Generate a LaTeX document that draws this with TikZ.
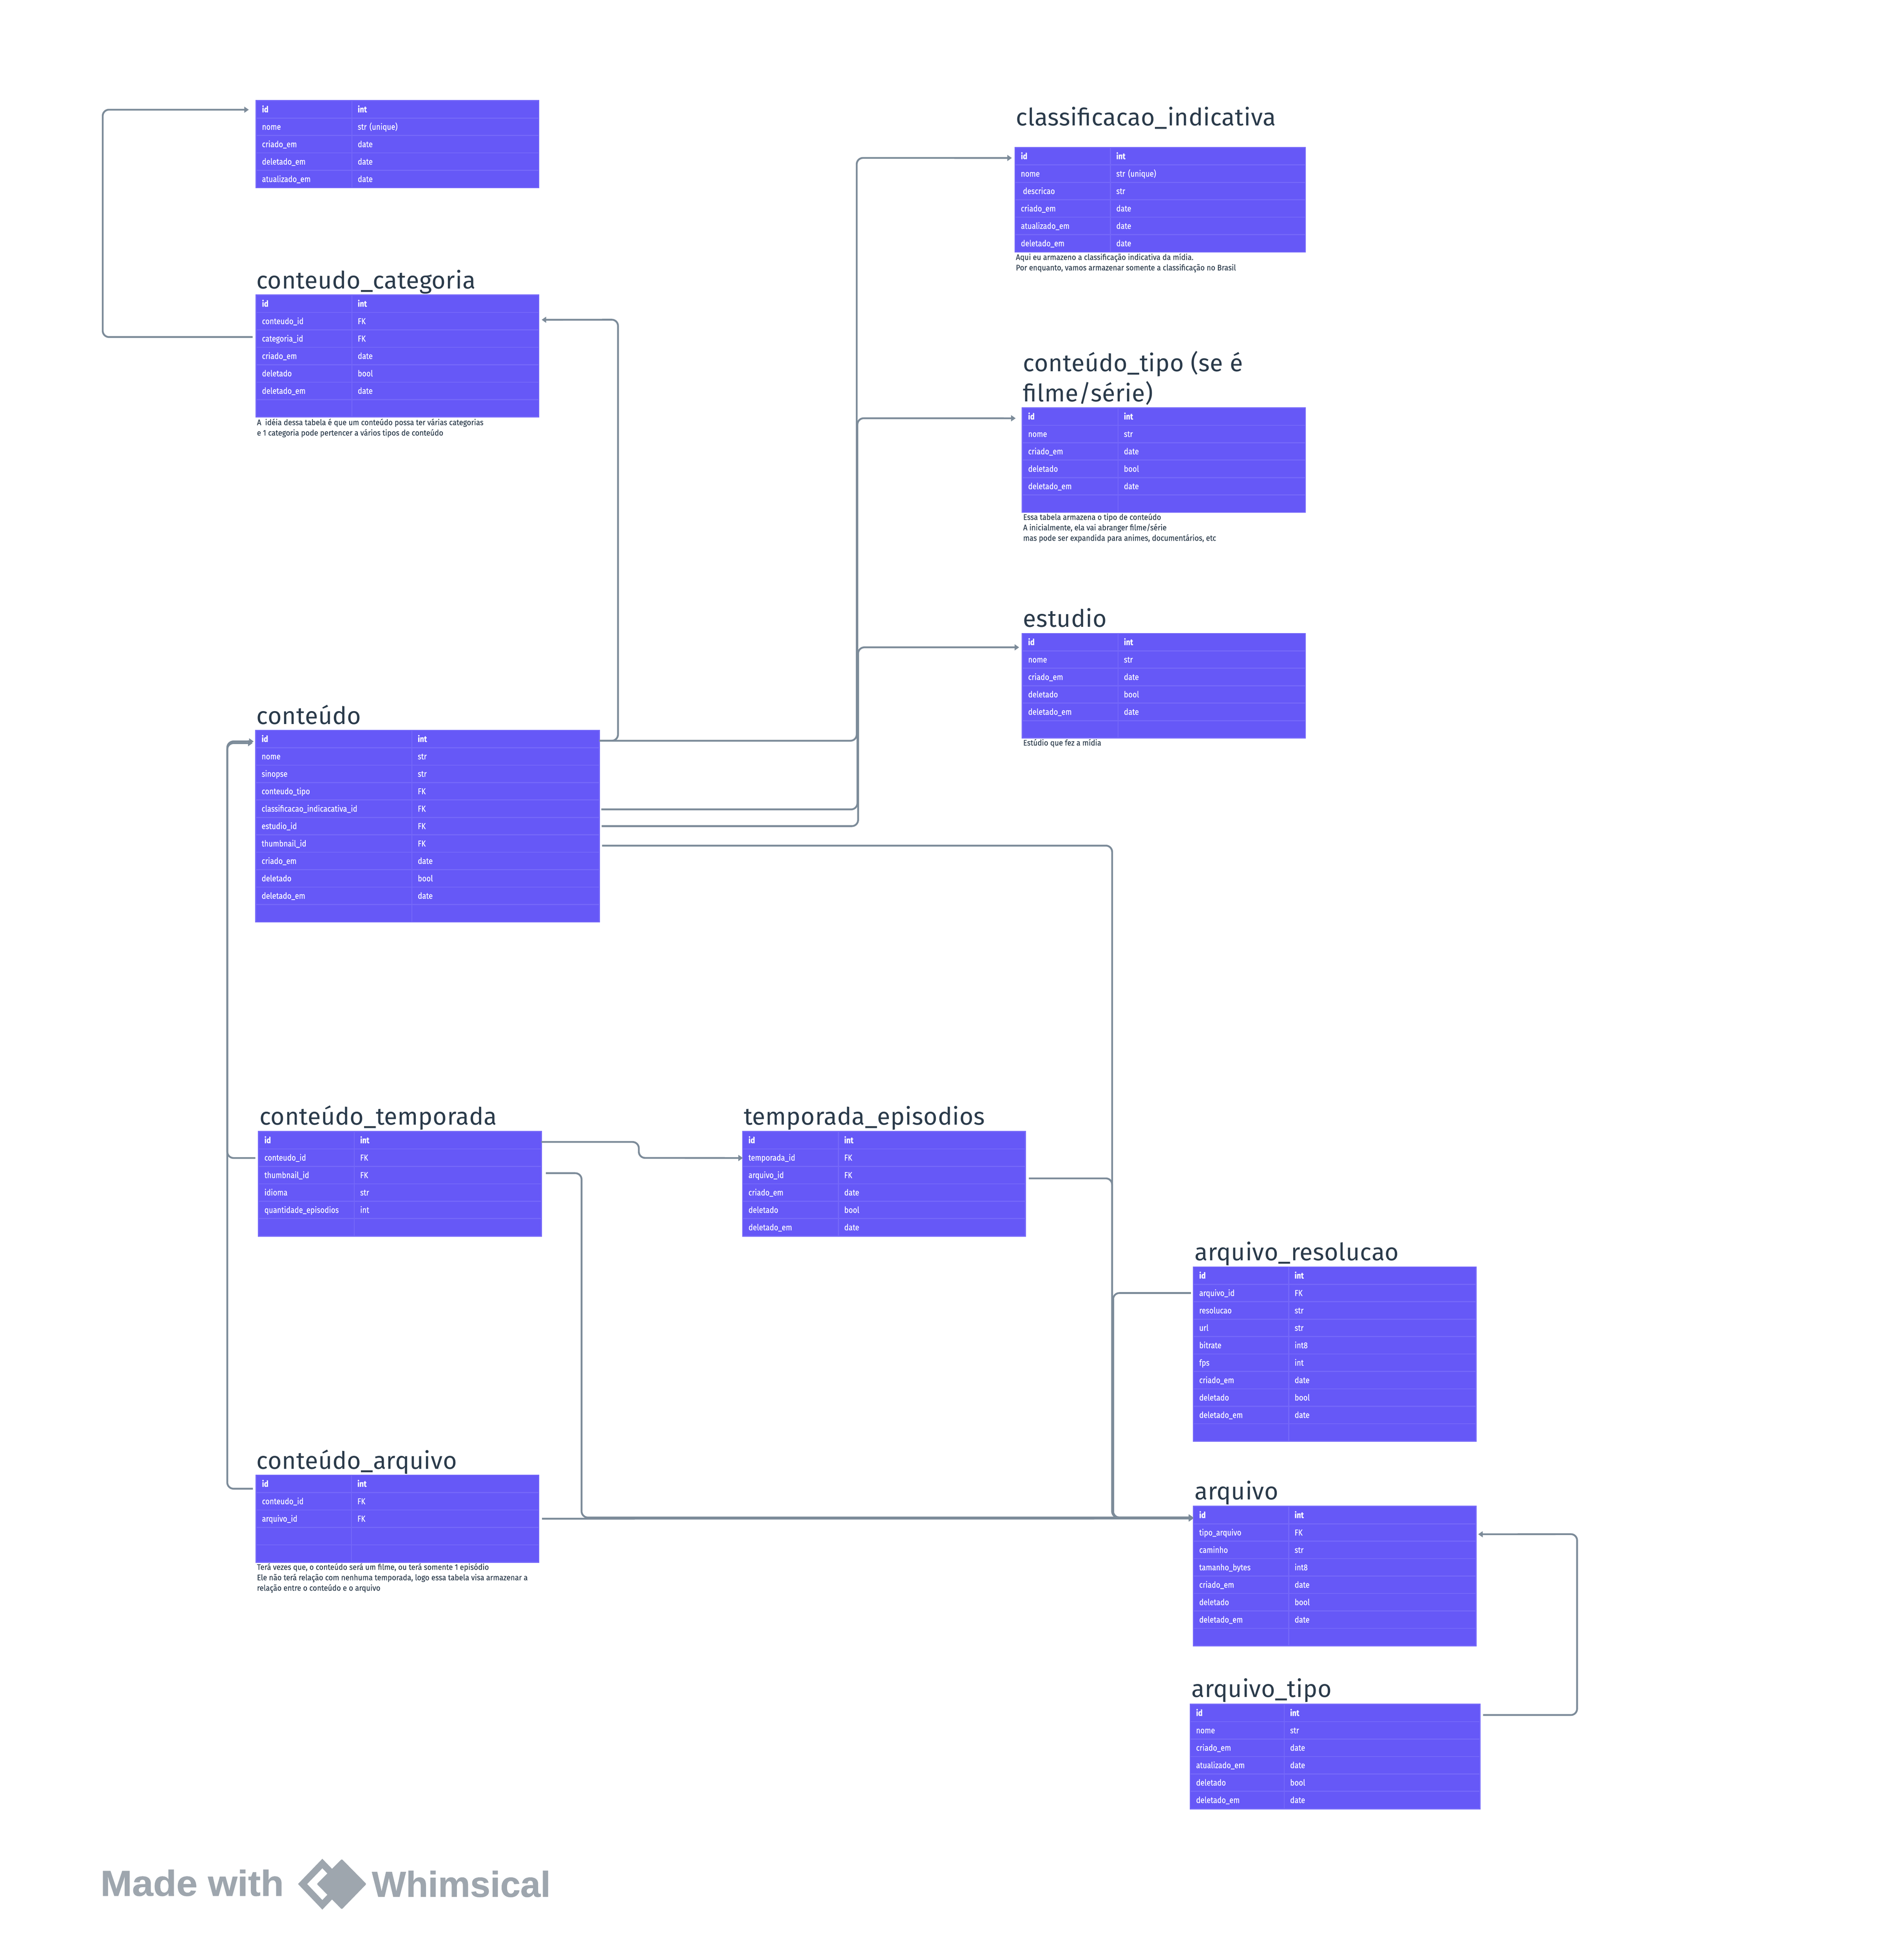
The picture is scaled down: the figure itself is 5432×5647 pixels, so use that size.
\documentclass[tikz,border=0pt]{standalone}
\usepackage{fontspec}
\setmainfont{Fira Sans}
\newfontfamily\rowfam{Fira Sans}[FakeStretch=0.86,FakeBold=0.55]
\newfontfamily\notefam{Fira Sans}[FakeStretch=0.915,FakeBold=0.15]
\newfontfamily\titlefam{Fira Sans}[LetterSpace=0.9]
\newfontfamily\logofont{Liberation Sans}[FakeBold=0.6]
\newfontfamily\logofontb{Liberation Sans}[FakeStretch=1.05,FakeBold=0.6]
\usetikzlibrary{arrows.meta}
\definecolor{cellfill}{HTML}{6658F7}
\definecolor{cellline}{HTML}{7568F9}
\definecolor{titlecol}{HTML}{2A3A4A}
\definecolor{linkcol}{HTML}{7C8B99}
\definecolor{logocol}{HTML}{9EA6AE}
\newcommand{\rowf}{\rowfam\fontsize{7.0}{8}\selectfont}
\newcommand{\titlef}{\titlefam\fontsize{19.7}{24.8}\selectfont}
\newcommand{\notef}{\notefam\fontsize{6.6}{8.55}\selectfont}
\tikzset{
  cell/.style={draw=cellline,fill=cellfill,text=white,line width=0.03cm,anchor=north west,outer sep=0pt,
    inner xsep=0.17cm,inner ysep=0pt,minimum height=0.502cm,text height=0.17cm,text depth=0pt,align=left,font=\rowf},
  tabletitle/.style={anchor=base west,inner sep=0pt,text=titlecol,font=\titlef},
  tablenote/.style={anchor=base west,inner sep=0pt,text=titlecol,font=\notef,align=left},
  logotext/.style={anchor=base west,inner sep=0pt,text=logocol,font=\logofont\bfseries\fontsize{29.6}{32}\selectfont},
  logotextb/.style={anchor=base west,inner sep=0pt,text=logocol,font=\logofontb\bfseries\fontsize{29.6}{32}\selectfont},
  link/.style={draw=linkcol,line width=0.052cm,rounded corners=0.18cm},
  linkarrow/.style={link,-{Triangle[length=0.13cm,width=0.17cm]}}
}
% name, left, split, right, top, rows
\newcommand{\dbtable}[6]{
  \pgfmathsetmacro\wa{(#3-#2-34)*0.01}
  \pgfmathsetmacro\wb{(#4-#3-34)*0.01}
  \foreach \a/\b [count=\i] in {#6}{
    \pgfmathsetmacro\yy{#5+(\i-1)*50.2}
    \node[cell,text width=\wa cm] (#1-\i) at (#2,\yy) {\ifnum\i=1 \bfseries\fi\a};
    \node[cell,text width=\wb cm] (#1-\i-t) at (#3,\yy) {\ifnum\i=1 \bfseries\fi\b};
  }
}
\begin{document}
\begin{tikzpicture}[x=0.01cm,y=-0.01cm]
\useasboundingbox[fill=white] (0,0) rectangle (5432,5647);

\dbtable{cat}{738}{1014}{1553}{290}{id/int,nome/str (unique),criado\_em/date,deletado\_em/date,atualizado\_em/date}

\node[tabletitle] (tcc) at (738,832) {conteudo\_categoria};
\dbtable{ccat}{738}{1014}{1553}{850}{id/int,conteudo\_id/FK,categoria\_id/FK,criado\_em/date,deletado/bool,deletado\_em/date,{}/{}}
\node[tablenote] (ncc) at (740,1255) {A\ \ idéia dessa tabela é que um conteúdo possa ter várias categorias\\e 1 categoria pode pertencer a vários tipos de conteúdo};

\node[tabletitle] (tcont) at (739,2087) {conteúdo};
\dbtable{cont}{737}{1187}{1727}{2104}{id/int,nome/str,sinopse/str,conteudo\_tipo/FK,classificacao\_indicacativa\_id/FK,estudio\_id/FK,thumbnail\_id/FK,criado\_em/date,deletado/bool,deletado\_em/date,{}/{}}

\node[tabletitle] (tclas) at (2927,362) {classificacao\_indicativa};
\dbtable{clas}{2925}{3200}{3762}{425}{id/int,nome/str (unique),\hspace*{0.06cm}descricao/str,criado\_em/date,atualizado\_em/date,deletado\_em/date}
\node[tablenote] (nclas) at (2927,779) {Aqui eu armazeno a classificação indicativa da mídia.\\Por enquanto, vamos armazenar somente a classificação no Brasil};

\node[tabletitle,align=left] (ttipo) at (2948,1157) {conteúdo\_tipo (se é\\filme/série)};
\dbtable{tipo}{2946}{3222}{3762}{1175}{id/int,nome/str,criado\_em/date,deletado/bool,deletado\_em/date,{}/{}}
\node[tablenote] (ntipo) at (2948,1558) {Essa tabela armazena o tipo de conteúdo\\A inicialmente, ela vai abranger filme/série\\mas pode ser expandida para animes, documentários, etc};

\node[tabletitle] (test) at (2948,1807) {estudio};
\dbtable{est}{2946}{3222}{3762}{1825}{id/int,nome/str,criado\_em/date,deletado/bool,deletado\_em/date,{}/{}}
\node[tablenote] (nest) at (2948,2148) {Estúdio que fez a mídia};

\node[tabletitle] (tctem) at (747,3241) {conteúdo\_temporada};
\dbtable{ctem}{745}{1021}{1560}{3260}{id/int,conteudo\_id/FK,thumbnail\_id/FK,idioma/str,quantidade\_episodios/int,{}/{}}

\node[tabletitle] (ttep) at (2143,3241) {temporada\_episodios};
\dbtable{tep}{2140}{2416}{2955}{3260}{id/int,temporada\_id/FK,arquivo\_id/FK,criado\_em/date,deletado/bool,deletado\_em/date}

\node[tabletitle] (tcarq) at (739,4232) {conteúdo\_arquivo};
\dbtable{carq}{738}{1013}{1553}{4250}{id/int,conteudo\_id/FK,arquivo\_id/FK,{}/{},{}/{}}
\node[tablenote] (ncarq) at (740,4583) {Terá vezes que, o conteúdo será um filme, ou terá somente 1 episódio\\Ele não terá relação com nenhuma temporada, logo essa tabela visa armazenar a\\relação entre o conteúdo e o arquivo};

\node[tabletitle] (tares) at (3442,3632) {arquivo\_resolucao};
\dbtable{ares}{3439}{3714}{4254}{3650}{id/int,arquivo\_id/FK,resolucao/str,url/str,bitrate/int8,fps/int,criado\_em/date,deletado/bool,deletado\_em/date,{}/{}}

\node[tabletitle] (tarq) at (3442,4321) {arquivo};
\dbtable{arq}{3439}{3714}{4254}{4340}{id/int,tipo\_arquivo/FK,caminho/str,tamanho\_bytes/int8,criado\_em/date,deletado/bool,deletado\_em/date,{}/{}}

\node[tabletitle] (tatp) at (3433,4890) {arquivo\_tipo};
\dbtable{atp}{3430}{3701}{4265}{4910}{id/int,nome/str,criado\_em/date,atualizado\_em/date,deletado/bool,deletado\_em/date}

% connectors
\draw[linkarrow] ([shift={(-10,-4.5)}]ccat-3.west) -| (296,316) -- ([shift={(-21,1)}]cat-1.west);
\draw[linkarrow] ([shift={(0,5)}]cont-1-t.east) -| (1781,921) -- ([shift={(8,-4)}]ccat-2-t.east);
\draw[linkarrow] ([shift={(0,5)}]cont-1-t.east) -| (2469,455) -- ([shift={(-9,5)}]clas-1.west);
\draw[linkarrow] ([shift={(6,2)}]cont-5-t.east) -| (2471,1205) -- ([shift={(-19,5)}]tipo-1.west);
\draw[linkarrow] ([shift={(7,0)}]cont-6-t.east) -| (2473,1865) -- ([shift={(-9,15)}]est-1.west);
\draw[linkarrow] ([shift={(8,6)}]cont-7-t.east) -| (3205,4372) -- ([shift={(0,7)}]arq-1.west);
\draw[linkarrow] ([shift={(10,9.5)}]tep-3-t.east) -| (3205,4372) -- ([shift={(0,7)}]arq-1.west);
\draw[linkarrow] ([shift={(-7,0)}]ares-2.west) -| (3208,4372) -- ([shift={(0,7)}]arq-1.west);
\draw[linkarrow] ([shift={(-9,1)}]ctem-2.west) -| (655,2141) -- ([shift={(-9,12)}]cont-1.west);
\draw[linkarrow] ([shift={(-9,14)}]carq-1.west) -| (655,2136) -- ([shift={(-6,7)}]cont-1.west);
\draw[linkarrow] ([shift={(0,5)}]ctem-1-t.east) -| (1841,3336) -- ([shift={(1,1)}]tep-2.west);
\draw[linkarrow] ([shift={(13,-5.5)}]ctem-3-t.east) -| (1676,4372) -- ([shift={(0,7)}]arq-1.west);
\draw[linkarrow] ([shift={(9,0)}]carq-3-t.east) -- ([shift={(0,10)}]arq-1.west);
\draw[linkarrow] ([shift={(9,6)}]atp-1-t.east) -| (4545,4420) -- ([shift={(6,5)}]arq-2-t.east);

% logo
\node[logotextb] (lmade) at (289,5462) {Made with};
\node[logotext] (lwhim) at (1071,5465) {Whimsical};
\draw[logocol,line width=0.19cm,miter limit=4] (872,5428) -- (929,5369) -- (986,5428) -- (929,5488) -- cycle;
\fill[logocol,rounded corners=0.03cm] (913,5428) -- (985,5356) -- (1056,5428) -- (985,5501) -- cycle;
\end{tikzpicture}
\end{document}
